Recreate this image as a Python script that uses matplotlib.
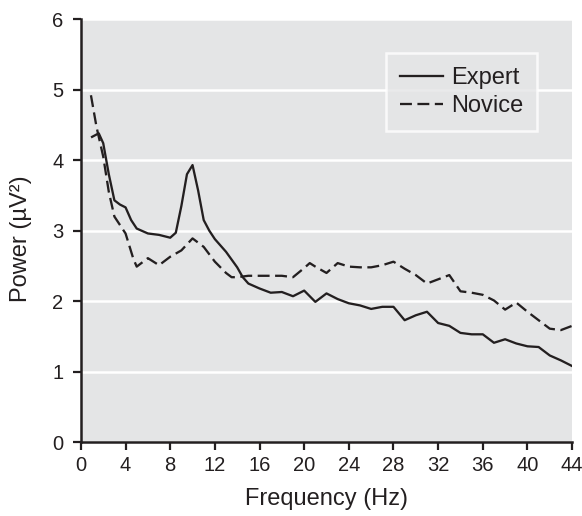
import matplotlib
matplotlib.use("Agg")
import matplotlib.pyplot as plt
import numpy as np

plt.rcParams['font.family'] = ['Liberation Sans', 'DejaVu Sans']

# values (Hz, uV^2)
freq_expert = [1, 1.6, 2, 2.5, 3, 3.5, 4, 4.5, 5, 6, 7, 8, 8.5, 9, 9.5, 10, 10.5, 11, 11.5,
               12, 13, 14, 14.5, 15, 16, 17, 18, 19, 20, 21, 22, 23, 24, 25, 26, 27, 28,
               29, 30, 31, 32, 33, 34, 35, 36, 37, 38, 39, 40, 41, 42, 43, 44]
power_expert = [4.33, 4.38, 4.24, 3.8, 3.43, 3.37, 3.33, 3.15, 3.03, 2.96, 2.94, 2.9, 2.97,
                3.35, 3.8, 3.93, 3.57, 3.15, 3.0, 2.88, 2.7, 2.48, 2.34, 2.25, 2.18, 2.12,
                2.13, 2.07, 2.15, 1.99, 2.11, 2.03, 1.97, 1.94, 1.89, 1.92, 1.92, 1.73,
                1.8, 1.85, 1.69, 1.65, 1.55, 1.53, 1.53, 1.41, 1.46, 1.4, 1.36, 1.35,
                1.23, 1.16, 1.08]

freq_novice = [0.9, 1.4, 2, 2.5, 3, 4, 4.7, 5, 6, 7, 8, 9, 10, 11, 12, 13, 13.5, 14, 15,
               16, 17, 18, 19, 20, 20.5, 21, 22, 23, 24, 25, 26, 27, 28, 29, 30, 31, 32,
               33, 34, 35, 36, 37, 38, 39, 40, 41, 42, 43, 44]
power_novice = [4.92, 4.47, 4.05, 3.55, 3.2, 2.96, 2.6, 2.49, 2.61, 2.51, 2.63, 2.72,
                2.89, 2.77, 2.56, 2.4, 2.34, 2.34, 2.36, 2.36, 2.36, 2.36, 2.34, 2.47,
                2.54, 2.49, 2.4, 2.54, 2.49, 2.48, 2.48, 2.51, 2.56, 2.46, 2.37, 2.25,
                2.31, 2.37, 2.14, 2.12, 2.09, 2.01, 1.88, 1.98, 1.85, 1.73, 1.61, 1.59,
                1.65]

x_ticks = list(range(0, 45, 4))
y_ticks = list(range(0, 7))

ink = "#231f20"
bg = "#e4e5e6"

fig = plt.figure(figsize=(5.82, 5.16), dpi=100)
ax = fig.add_axes([0.139, 0.143, 0.844, 0.82])
ax.set_facecolor(bg)

ax.plot(freq_expert, power_expert, color=ink, lw=1.65, label="Expert")
ax.plot(freq_novice, power_novice, color=ink, lw=1.65, dashes=(5.2, 2.4), label="Novice")

ax.set_xlim(0, 44)
ax.set_ylim(0, 6)
ax.set_xticks(x_ticks)
ax.set_yticks(y_ticks)
ax.yaxis.grid(True, color="white", lw=1.8)
ax.set_axisbelow(True)

for s in ["top", "right"]:
    ax.spines[s].set_visible(False)
for s in ["left", "bottom"]:
    ax.spines[s].set_color(ink)
    ax.spines[s].set_linewidth(1.8)
ax.tick_params(colors=ink, labelsize=14.5, length=5.5, width=1.6, direction="out")
ax.tick_params(axis="x", pad=4.5)
ax.tick_params(axis="y", pad=7)

ax.set_xlabel("Frequency (Hz)", fontsize=17, color=ink)
ax.set_ylabel("Power (µV²)", fontsize=17, color=ink)
ax.xaxis.set_label_coords(0.5, -0.108)
ax.yaxis.set_label_coords(-0.1, 0.48)

leg = ax.legend(loc="upper right", bbox_to_anchor=(0.929, 0.92), fontsize=17,
                frameon=True, fancybox=False, facecolor=bg, edgecolor="white",
                handlelength=1.8, handletextpad=0.35, borderpad=0.6, labelspacing=0.25,
                borderaxespad=0)
leg.get_frame().set_linewidth(1.8)
for t in leg.get_texts():
    t.set_color(ink)

fig.savefig("out.png", dpi=100)
